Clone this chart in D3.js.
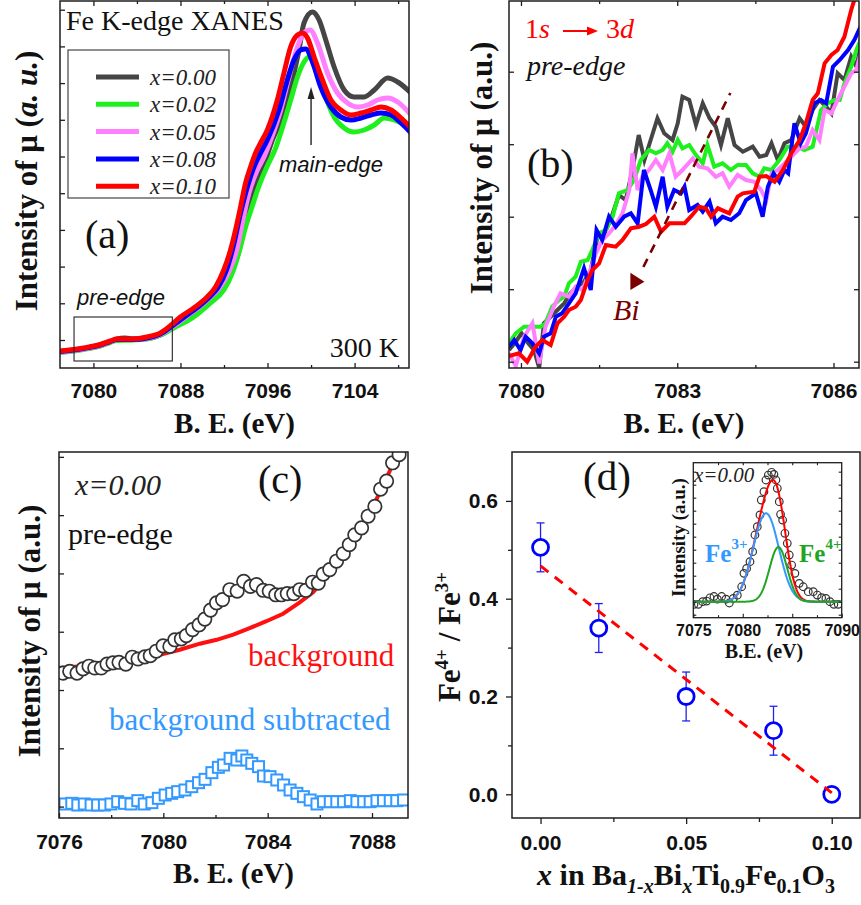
<!DOCTYPE html>
<html><head><meta charset="utf-8">
<script src="https://cdn.jsdelivr.net/npm/d3@7"></script>
<style>
body{margin:0;background:#fff;}
svg{display:block;}
</style></head><body>
<svg id="fig" width="861" height="905"></svg>
<script>
// ---------------- data ----------------
// (a) Fe K-edge XANES, normalised absorption (arb. units) vs energy (eV)
const xanes000 = [[7076.93,0.16],[7079.08,0.19],[7080.62,0.225],[7081.54,0.262],[7082.16,0.29],[7082.9,0.30],[7083.69,0.292],[7084.92,0.295],[7086.15,0.33],[7087.37,0.41],[7088.61,0.51],[7089.83,0.61],[7090.76,0.70],[7091.60,0.78],[7092.52,0.95],[7093.35,1.16],[7093.82,1.38],[7094.39,1.68],[7095.09,1.88],[7095.73,2.05],[7096.45,2.28],[7097.51,2.55],[7098.29,2.88],[7098.89,3.18],[7099.35,3.45],[7100.13,3.56],[7100.74,3.48],[7101.35,3.28],[7102.12,3.01],[7103.04,2.78],[7103.96,2.71],[7104.88,2.71],[7105.81,2.78],[7107.04,2.90],[7107.96,2.86],[7109.19,2.75]];
const xanes002 = [[7076.93,0.155],[7079.08,0.185],[7080.62,0.22],[7081.54,0.255],[7082.16,0.275],[7083.69,0.28],[7084.92,0.29],[7086.15,0.33],[7087.37,0.40],[7089.22,0.51],[7090.76,0.65],[7091.98,0.78],[7092.76,0.95],[7093.36,1.15],[7093.98,1.41],[7094.60,1.62],[7095.21,1.82],[7095.98,2.02],[7096.75,2.20],[7097.21,2.35],[7098.13,2.68],[7098.75,2.91],[7099.35,3.06],[7099.82,3.11],[7100.43,3.01],[7101.20,2.75],[7102.12,2.51],[7103.04,2.40],[7103.96,2.36],[7104.88,2.38],[7105.81,2.43],[7106.73,2.50],[7107.65,2.48],[7108.57,2.43],[7109.19,2.38]];
const xanes005 = [[7076.93,0.16],[7079.08,0.19],[7080.62,0.225],[7081.54,0.26],[7082.16,0.285],[7083.69,0.285],[7084.92,0.295],[7086.15,0.335],[7087.37,0.42],[7088.61,0.52],[7089.83,0.62],[7090.76,0.71],[7091.51,0.79],[7092.43,0.96],[7093.17,1.18],[7093.68,1.45],[7094.29,1.75],[7095.06,1.98],[7095.67,2.11],[7096.29,2.28],[7097.21,2.58],[7097.97,2.91],[7098.75,3.21],[7099.35,3.35],[7099.91,3.38],[7100.59,3.25],[7101.51,2.95],[7102.43,2.75],[7103.35,2.65],[7104.28,2.61],[7105.20,2.63],[7106.12,2.68],[7107.04,2.70],[7107.96,2.66],[7109.19,2.53]];
const xanes008 = [[7076.93,0.165],[7079.08,0.195],[7080.62,0.23],[7081.54,0.265],[7082.16,0.285],[7083.69,0.285],[7084.92,0.30],[7086.15,0.34],[7087.37,0.43],[7088.61,0.53],[7089.83,0.63],[7090.76,0.72],[7091.42,0.80],[7092.23,0.98],[7092.88,1.23],[7093.52,1.55],[7094.14,1.81],[7094.75,2.01],[7095.36,2.15],[7095.98,2.28],[7097.05,2.58],[7097.82,2.88],[7098.43,3.08],[7099.05,3.18],[7099.51,3.19],[7100.13,3.06],[7100.89,2.81],[7101.82,2.61],[7102.74,2.51],[7103.66,2.48],[7104.59,2.50],[7105.51,2.53],[7106.43,2.55],[7107.35,2.53],[7108.27,2.45],[7109.19,2.35]];
const xanes010 = [[7076.93,0.17],[7079.08,0.20],[7080.62,0.235],[7081.54,0.27],[7082.16,0.29],[7083.69,0.29],[7084.92,0.31],[7086.15,0.35],[7087.37,0.45],[7088.0,0.51],[7089.22,0.60],[7090.45,0.71],[7091.22,0.81],[7091.98,0.98],[7092.60,1.18],[7093.06,1.38],[7093.52,1.61],[7093.98,1.85],[7094.44,2.01],[7094.90,2.15],[7095.36,2.25],[7095.98,2.38],[7096.90,2.68],[7097.51,2.95],[7098.12,3.21],[7098.75,3.33],[7099.21,3.35],[7099.67,3.30],[7100.28,3.11],[7101.05,2.88],[7101.82,2.68],[7102.74,2.58],[7103.66,2.53],[7104.59,2.55],[7105.51,2.58],[7106.43,2.61],[7107.35,2.58],[7108.27,2.50],[7109.19,2.40]];

// (b) pre-edge region, same samples
const pre000 = [[7079.77,0.18],[7079.90,0.263],[7080.01,0.347],[7080.14,0.247],[7080.25,0.18],[7080.35,0.0],[7080.44,0.447],[7080.57,0.513],[7080.70,0.58],[7080.83,0.647],[7080.95,0.747],[7081.08,0.813],[7081.21,0.863],[7081.34,0.98],[7081.47,1.313],[7081.60,1.347],[7081.72,1.48],[7081.88,1.73],[7082.01,1.68],[7082.14,1.98],[7082.26,2.33],[7082.37,2.08],[7082.49,2.28],[7082.62,2.497],[7082.75,2.347],[7082.91,2.28],[7083.01,2.447],[7083.10,2.713],[7083.23,2.68],[7083.36,2.43],[7083.49,2.647],[7083.62,2.497],[7083.74,2.413],[7083.84,2.23],[7083.97,2.497],[7084.10,2.23],[7084.26,2.163],[7084.45,2.213],[7084.58,2.113],[7084.71,2.13],[7084.81,2.247],[7084.93,2.08],[7085.06,2.247],[7085.19,2.28],[7085.35,2.497],[7085.47,2.413],[7085.60,2.58],[7085.73,2.68],[7085.86,2.613],[7085.96,2.547],[7086.08,2.947],[7086.21,2.88],[7086.34,3.113],[7086.44,3.013],[7086.52,3.213]];
const pre002 = [[7079.77,0.247],[7079.90,0.347],[7080.06,0.413],[7080.22,0.413],[7080.38,0.413],[7080.47,0.447],[7080.60,0.613],[7080.73,0.68],[7080.83,0.713],[7080.92,0.847],[7081.05,0.913],[7081.15,1.063],[7081.28,1.08],[7081.37,1.18],[7081.50,1.347],[7081.63,1.38],[7081.76,1.513],[7081.88,1.747],[7082.04,1.78],[7082.17,1.88],[7082.30,2.08],[7082.46,2.18],[7082.59,2.147],[7082.72,2.18],[7082.81,2.247],[7082.91,2.163],[7083.01,2.28],[7083.10,2.197],[7083.23,2.23],[7083.36,2.13],[7083.49,2.047],[7083.58,2.23],[7083.71,2.013],[7083.87,2.047],[7084.03,1.98],[7084.16,2.03],[7084.32,2.03],[7084.45,1.947],[7084.58,1.913],[7084.67,1.997],[7084.81,1.98],[7084.96,2.08],[7085.12,2.213],[7085.31,2.213],[7085.44,2.18],[7085.60,2.213],[7085.76,2.58],[7085.89,2.647],[7086.02,2.68],[7086.12,2.68],[7086.21,2.847],[7086.34,3.013],[7086.44,3.18],[7086.52,3.28]];
const pre005 = [[7079.77,0.147],[7079.90,0.02],[7080.06,0.313],[7080.22,0.447],[7080.35,0.047],[7080.47,0.413],[7080.63,0.613],[7080.76,0.747],[7080.92,0.713],[7081.05,0.813],[7081.18,0.78],[7081.31,0.947],[7081.44,1.147],[7081.56,1.28],[7081.69,1.347],[7081.82,1.43],[7081.95,1.547],[7082.08,1.78],[7082.14,2.147],[7082.24,1.78],[7082.33,1.913],[7082.46,1.98],[7082.59,2.08],[7082.72,1.98],[7082.85,2.147],[7082.97,1.913],[7083.10,1.98],[7083.30,2.097],[7083.42,2.013],[7083.58,1.997],[7083.74,1.913],[7083.87,1.947],[7084.00,1.813],[7084.16,1.93],[7084.32,1.88],[7084.48,1.863],[7084.61,1.78],[7084.71,1.68],[7084.81,1.947],[7084.93,1.98],[7085.06,2.047],[7085.19,2.113],[7085.35,2.197],[7085.47,2.213],[7085.60,2.38],[7085.73,2.28],[7085.83,2.58],[7085.96,2.547],[7086.08,2.68],[7086.21,2.813],[7086.34,2.947],[7086.44,2.98],[7086.52,3.147]];
const pre008 = [[7079.77,0.213],[7079.87,0.28],[7079.99,0.18],[7080.09,0.313],[7080.22,0.247],[7080.35,0.147],[7080.44,0.313],[7080.57,0.347],[7080.67,0.513],[7080.79,0.547],[7080.92,0.647],[7081.05,0.747],[7081.21,0.997],[7081.34,0.78],[7081.45,1.38],[7081.56,1.28],[7081.69,1.513],[7081.82,1.413],[7081.98,1.513],[7082.11,1.547],[7082.24,1.447],[7082.36,1.98],[7082.49,1.78],[7082.59,1.613],[7082.72,1.913],[7082.81,1.613],[7082.94,1.78],[7083.07,1.747],[7083.14,1.813],[7083.23,1.58],[7083.39,1.63],[7083.49,1.563],[7083.62,1.663],[7083.74,1.447],[7083.87,1.513],[7084.03,1.48],[7084.19,1.547],[7084.32,1.68],[7084.51,1.747],[7084.64,1.513],[7084.74,1.813],[7084.85,1.947],[7084.96,1.863],[7085.06,1.98],[7085.13,1.947],[7085.25,2.447],[7085.37,2.247],[7085.47,2.347],[7085.63,2.647],[7085.76,2.68],[7085.86,2.647],[7085.99,3.013],[7086.12,3.08],[7086.28,3.18],[7086.40,3.28],[7086.52,3.413]];
const pre010 = [[7079.77,0.12],[7079.96,0.147],[7080.12,0.063],[7080.28,0.213],[7080.41,0.28],[7080.57,0.23],[7080.70,0.447],[7080.83,0.513],[7080.92,0.58],[7081.05,0.613],[7081.15,0.68],[7081.28,0.88],[7081.37,0.98],[7081.50,1.047],[7081.63,1.23],[7081.82,1.213],[7081.95,1.28],[7082.11,1.397],[7082.27,1.413],[7082.40,1.44],[7082.56,1.513],[7082.69,1.363],[7082.85,1.447],[7083.04,1.447],[7083.14,1.447],[7083.26,1.513],[7083.42,1.613],[7083.55,1.597],[7083.65,1.513],[7083.78,1.597],[7084.00,1.547],[7084.16,1.713],[7084.26,1.747],[7084.48,1.763],[7084.58,1.913],[7084.71,1.92],[7084.87,1.863],[7085.03,1.98],[7085.19,2.147],[7085.35,2.28],[7085.47,2.447],[7085.60,2.68],[7085.70,2.747],[7085.83,3.047],[7085.96,3.13],[7086.08,3.18],[7086.21,3.313],[7086.34,3.58],[7086.40,3.68]];

const compositions = ["x=0.00", "x=0.02", "x=0.05", "x=0.08", "x=0.10"];

// (c) x = 0.00 pre-edge: measured points, background, background-subtracted
const cMeasured = [[7076.15,48.3],[7076.41,48.9],[7076.69,48.3],[7076.92,49.7],[7077.15,50.6],[7077.37,50.0],[7077.62,50.0],[7077.84,51.3],[7078.07,51.7],[7078.30,51.9],[7078.56,51.3],[7078.81,53.6],[7079.03,53.0],[7079.29,53.7],[7079.50,54.1],[7079.73,55.6],[7079.99,57.4],[7080.25,57.2],[7080.44,59.4],[7080.69,59.7],[7080.88,60.8],[7081.12,62.8],[7081.37,64.4],[7081.59,66.3],[7081.81,69.3],[7082.04,71.7],[7082.27,72.8],[7082.55,76.1],[7082.83,75.6],[7083.08,78.9],[7083.34,77.2],[7083.57,77.8],[7083.83,75.9],[7084.06,75.6],[7084.31,74.4],[7084.53,74.4],[7084.75,74.8],[7085.00,74.8],[7085.23,76.1],[7085.46,75.9],[7085.72,78.6],[7085.94,78.3],[7086.13,81.3],[7086.38,82.8],[7086.64,85.6],[7086.90,88.1],[7087.13,91.1],[7087.34,94.4],[7087.60,96.7],[7087.85,100.6],[7088.11,103.9],[7088.33,109.6],[7088.56,112.3],[7088.79,118.4],[7089.04,121.1]];
const cBackground = [[7076.00,50.0],[7077.56,51.1],[7078.84,52.8],[7079.86,54.4],[7080.63,56.1],[7081.40,58.1],[7082.04,59.4],[7082.68,61.1],[7083.31,63.3],[7083.95,65.6],[7084.59,68.1],[7085.23,71.9],[7085.74,75.2],[7086.26,80.5],[7086.77,86.5],[7087.28,93.0],[7087.79,99.5],[7088.30,108.5],[7088.75,117.0],[7089.07,122.5],[7089.38,128.0]];
const cSubtracted = [[7076.23,4.67],[7076.49,4.89],[7076.72,4.33],[7076.97,4.67],[7077.23,4.33],[7077.48,4.33],[7077.74,4.33],[7077.99,4.67],[7078.25,5.44],[7078.51,4.89],[7078.76,4.67],[7079.02,5.78],[7079.27,4.67],[7079.56,5.11],[7079.81,6.56],[7080.07,7.67],[7080.32,8.22],[7080.55,8.78],[7080.83,9.33],[7081.09,10.44],[7081.35,11.78],[7081.60,12.89],[7081.86,15.11],[7082.11,16.89],[7082.31,17.67],[7082.56,19.89],[7082.82,19.33],[7083.01,20.67],[7083.20,19.33],[7083.39,18.22],[7083.65,17.11],[7083.84,14.0],[7084.09,13.78],[7084.35,12.67],[7084.61,11.0],[7084.86,9.33],[7085.12,8.22],[7085.37,7.11],[7085.63,6.0],[7085.89,4.67],[7086.14,5.44],[7086.40,5.44],[7086.65,5.44],[7086.91,5.44],[7087.17,5.78],[7087.42,5.44],[7087.68,5.44],[7087.93,5.44],[7088.19,5.78],[7088.44,5.78],[7088.70,5.78],[7088.95,5.78],[7089.21,6.0]];

// (d) Fe4+/Fe3+ ratio vs Bi content
const biContent = [0.00, 0.02, 0.05, 0.08, 0.10];
const feRatio   = [0.505, 0.34, 0.20, 0.13, 0.00];
const feRatioErr = [0.05, 0.05, 0.05, 0.05, 0.00];

// (d) inset: background-subtracted pre-edge of x = 0.00 and its two-Gaussian fit
const insetE = [7075.07,7075.51,7075.95,7076.35,7076.69,7077.09,7077.43,7077.87,7078.30,7078.64,7079.04,7079.45,7079.89,7080.12,7080.39,7080.73,7081.00,7081.23,7081.47,7081.74,7081.87,7082.14,7082.34,7082.58,7082.92,7083.15,7083.35,7083.49,7083.69,7083.82,7084.03,7084.26,7084.50,7084.70,7084.94,7085.27,7085.71,7086.11,7086.62,7087.12,7087.53,7087.97,7088.40,7088.81,7089.21,7089.65];
const insetI = [-0.02,-0.02,0.0,0.005,0.03,0.04,0.02,0.04,0.02,-0.01,0.025,0.05,0.115,0.218,0.256,0.308,0.385,0.513,0.577,0.667,0.782,0.846,0.936,0.974,0.995,0.979,0.936,0.872,0.769,0.672,0.628,0.526,0.449,0.359,0.282,0.218,0.141,0.115,0.077,0.077,0.051,0.031,0.026,0.0,-0.02,-0.02];
const fitLabels  = ["Fe3+", "Fe4+"];
const fitCenter  = [7082.35, 7083.6];   // eV
const fitHeight  = [0.68, 0.42];
const fitSigma   = [1.3, 0.9];          // eV

// ---------------- drawing helpers ----------------
const SERIF = "'Liberation Serif','Times New Roman',serif";
const SANS = "'Liberation Sans',Arial,sans-serif";
const INK = "#1e1e1e";
const svg = d3.select("#fig");
const defs = svg.append("defs");

function makePanel(box, xDom, yDom, id) {
  const x = d3.scaleLinear().domain(xDom).range([box.l, box.r]);
  const y = d3.scaleLinear().domain(yDom).range([box.b, box.t]);
  defs.append("clipPath").attr("id", id).append("rect")
    .attr("x", box.l).attr("y", box.t).attr("width", box.r - box.l).attr("height", box.b - box.t);
  const plot = svg.append("g").attr("clip-path", `url(#${id})`);
  return {box, x, y, plot};
}

function axis(axisFn, scale, tx, ty, values, size, opts = {}) {
  const ax = axisFn(scale).tickValues(values).tickSize(size)
    .tickPadding(opts.pad ?? 3)
    .tickFormat(opts.fmt || (() => ""));
  const g = svg.append("g").attr("transform", `translate(${tx},${ty})`).call(ax);
  g.select(".domain").remove();
  g.selectAll("line").attr("stroke", INK).attr("stroke-width", opts.sw ?? 1.3);
  g.selectAll("text").attr("font-family", SANS).attr("font-weight", "bold")
    .attr("font-size", opts.fs ?? 21).attr("fill", "#111");
  return g;
}

function frame(p, sw = 1.5) {
  const b = p.box;
  svg.append("rect").attr("x", b.l).attr("y", b.t).attr("width", b.r - b.l).attr("height", b.b - b.t)
    .attr("fill", "none").attr("stroke", INK).attr("stroke-width", sw);
}

function label(x, y, str, o = {}) {
  return svg.append("text").attr("x", x).attr("y", y)
    .attr("font-family", o.ff || SERIF).attr("font-size", o.fs || 28)
    .attr("font-style", o.it ? "italic" : null).attr("font-weight", o.bold ? "bold" : null)
    .attr("fill", o.fill || "#111").attr("text-anchor", o.anchor || "start").text(str);
}

function vTitle(cx, cy, parts, fs) {
  const t = svg.append("text").attr("transform", `translate(${cx},${cy}) rotate(-90)`)
    .attr("text-anchor", "middle").attr("font-family", SERIF).attr("font-weight", "bold")
    .attr("font-size", fs).attr("fill", "#111");
  parts.forEach(p => {
    t.append("tspan").attr("font-style", p.it ? "italic" : null)
      .attr("font-size", p.fs || null).attr("dy", p.dy || null).text(p.t);
  });
  return t;
}

const lineColors = ["#454545", "#1ef01e", "#ff7fff", "#0000ff", "#ff0000"];

// ---------------- (a) XANES ----------------
const A = makePanel({l:60, r:409, t:1, b:368}, [7076.93, 7109.0], [0, 3.67], "clipA");
const lineA = d3.line().x(d => A.x(d[0])).y(d => A.y(d[1])).curve(d3.curveMonotoneX);
[xanes000, xanes002, xanes005, xanes008, xanes010].forEach((s, i) => {
  A.plot.append("path").attr("d", lineA(s)).attr("fill", "none")
    .attr("stroke", lineColors[i]).attr("stroke-width", 5).attr("stroke-linejoin", "round");
});
axis(d3.axisBottom, A.x, 0, 368, [7080, 7088, 7096, 7104], -5, {fmt: d3.format("d"), pad: 15});
axis(d3.axisBottom, A.x, 0, 368, [7084, 7092, 7100, 7108], -3);
axis(d3.axisTop, A.x, 0, 1, [7080, 7088, 7096, 7104], -5);
axis(d3.axisTop, A.x, 0, 1, [7084, 7092, 7100, 7108], -3);
axis(d3.axisLeft, A.y, 60, 0, d3.range(0.28, 3.67, 0.367), -5);
frame(A);

// legend
const legBox = {l:68, t:50, r:229, b:198};
svg.append("rect").attr("x", legBox.l).attr("y", legBox.t).attr("width", legBox.r - legBox.l)
  .attr("height", legBox.b - legBox.t).attr("fill", "#fff").attr("stroke", "#444").attr("stroke-width", 1.2);
compositions.forEach((c, i) => {
  const yy = 77 + i * 27.3;
  svg.append("line").attr("x1", 96).attr("x2", 139).attr("y1", yy).attr("y2", yy)
    .attr("stroke", lineColors[i]).attr("stroke-width", 5);
  label(150, yy + 8, c, {fs: 23, it: true, fill: "#222"});
});

label(66, 30, "Fe K-edge XANES", {fs: 28, fill: "#111"});
label(85, 248, "(a)", {fs: 40});
label(399, 357, "300 K", {fs: 28, anchor: "end"});
label(77, 305, "pre-edge", {ff: SANS, fs: 22, it: true});
label(279, 172, "main-edge", {ff: SANS, fs: 22, it: true});
// pre-edge window and main-edge arrow
svg.append("rect").attr("x", A.x(7078.22)).attr("y", A.y(0.51))
  .attr("width", A.x(7087.25) - A.x(7078.22)).attr("height", A.y(0.07) - A.y(0.51))
  .attr("fill", "none").attr("stroke", "#222").attr("stroke-width", 1.1);
const arX = A.x(7100.0);
svg.append("line").attr("x1", arX).attr("x2", arX).attr("y1", A.y(2.23)).attr("y2", A.y(2.72))
  .attr("stroke", "#222").attr("stroke-width", 1.4);
svg.append("path").attr("d", `M${arX},${A.y(2.81)} L${arX - 3.5},${A.y(2.69)} L${arX + 3.5},${A.y(2.69)} Z`).attr("fill", "#222");

label(234.5, 433, "B. E. (eV)", {fs: 29, bold: true, anchor: "middle"});
vTitle(37, 181, [{t: "Intensity of μ ("}, {t: "a. u.", it: true}, {t: ")"}], 31);

// ---------------- (b) pre-edge zoom ----------------
const B = makePanel({l:509, r:859, t:1, b:368}, [7079.77, 7086.49], [0, 3.67], "clipB");
const lineB = d3.line().x(d => B.x(d[0])).y(d => B.y(d[1]));
[pre000, pre002, pre005, pre008, pre010].forEach((s, i) => {
  B.plot.append("path").attr("d", lineB(s)).attr("fill", "none")
    .attr("stroke", lineColors[i]).attr("stroke-width", 4).attr("stroke-linejoin", "miter");
});
axis(d3.axisBottom, B.x, 0, 368, [7080, 7083, 7086], -5, {fmt: d3.format("d"), pad: 15});
axis(d3.axisBottom, B.x, 0, 368, [7081.5, 7084.5], -3);
axis(d3.axisTop, B.x, 0, 1, [7080, 7083, 7086], -5);
axis(d3.axisTop, B.x, 0, 1, [7081.5, 7084.5], -3);
axis(d3.axisLeft, B.y, 509, 0, d3.range(0.063, 3.67, 0.725), -5);
axis(d3.axisRight, B.y, 859, 0, d3.range(0.063, 3.67, 0.725), -5);
frame(B);

// Bi trend arrow (dashed) with head
svg.append("line").attr("x1", B.x(7082.35)).attr("y1", B.y(1.01)).attr("x2", B.x(7084.02)).attr("y2", B.y(2.75))
  .attr("stroke", "#7a0000").attr("stroke-width", 2.6).attr("stroke-dasharray", "9,7");
svg.append("path").attr("d",
  `M${B.x(7082.10)},${B.y(0.953)} L${B.x(7082.10)},${B.y(0.78)} L${B.x(7082.37)},${B.y(0.863)} Z`)
  .attr("fill", "#7a0000");
label(613, 320, "Bi", {fs: 30, it: true, fill: "#7a0000"});

const tr = label(525, 38, "1", {fs: 28, fill: "#ff0000"});
tr.append("tspan").attr("font-style", "italic").text("s");
svg.append("line").attr("x1", 563).attr("x2", 589).attr("y1", 31).attr("y2", 31)
  .attr("stroke", "#ff0000").attr("stroke-width", 2);
svg.append("path").attr("d", "M598,31 L587,26.5 L587,35.5 Z").attr("fill", "#ff0000");
const tr2 = label(606, 38, "3", {fs: 28, fill: "#ff0000"});
tr2.append("tspan").attr("font-style", "italic").text("d");
label(527, 75, "pre-edge", {fs: 28, it: true, fill: "#111"});
label(527, 177, "(b)", {fs: 40});

label(684, 433, "B. E. (eV)", {fs: 29, bold: true, anchor: "middle"});
vTitle(492, 168, [{t: "Intensity of μ (a.u.)"}], 31);

// ---------------- (c) background subtraction ----------------
const C = makePanel({l:59, r:408, t:452, b:818}, [7076, 7089.38], [0, 122], "clipC");
const lineC = d3.line().x(d => C.x(d[0])).y(d => C.y(d[1]));
C.plot.append("path").attr("d", lineC(cBackground)).attr("fill", "none")
  .attr("stroke", "#ff1010").attr("stroke-width", 4);
C.plot.selectAll("circle.meas").data(cMeasured).join("circle").attr("class", "meas")
  .attr("cx", d => C.x(d[0])).attr("cy", d => C.y(d[1])).attr("r", 6.7)
  .attr("fill", "#fff").attr("stroke", "#333").attr("stroke-width", 1.7);
const sq = 11;
C.plot.selectAll("rect.sub").data(cSubtracted).join("rect").attr("class", "sub")
  .attr("x", d => C.x(d[0]) - sq / 2).attr("y", d => C.y(d[1]) - sq / 2)
  .attr("width", sq).attr("height", sq)
  .attr("fill", "#fff").attr("stroke", "#3399ff").attr("stroke-width", 2);
axis(d3.axisBottom, C.x, 0, 818, [7076, 7080, 7084, 7088], -5, {fmt: d3.format("d"), pad: 16});
axis(d3.axisBottom, C.x, 0, 818, [7078, 7082, 7086], -3);
axis(d3.axisLeft, C.y, 59, 0, d3.range(3.8, 122, 19.43), -5);
frame(C);

label(75, 495, "x=0.00", {fs: 30, it: true, fill: "#222"});
label(258, 493, "(c)", {fs: 40});
label(68, 544, "pre-edge", {fs: 30});
label(248, 666, "background", {fs: 31, fill: "#ff1010"});
label(109, 730, "background subtracted", {fs: 31, fill: "#3399ff"});

label(233.5, 883, "B. E. (eV)", {fs: 29, bold: true, anchor: "middle"});
vTitle(40, 631, [{t: "Intensity of μ (a.u.)"}], 31);

// ---------------- (d) Fe4+/Fe3+ ratio ----------------
const D = makePanel({l:512, r:860, t:452, b:818}, [-0.0098, 0.1097], [-0.0485, 0.70], "clipD");
// least-squares straight line through the ratios
const mx = d3.mean(biContent), my = d3.mean(feRatio);
const slope = d3.sum(biContent, (v, i) => (v - mx) * (feRatio[i] - my)) / d3.sum(biContent, v => (v - mx) ** 2);
const icpt = my - slope * mx;
const fitEnds = d3.extent(biContent);
const pts = biContent.map((v, i) => ({x: v, y: feRatio[i], e: feRatioErr[i]}));
const eb = D.plot.append("g").attr("stroke", "#2222ee").attr("stroke-width", 1.3);
pts.filter(d => d.e > 0).forEach(d => {
  const cx = D.x(d.x);
  eb.append("line").attr("x1", cx).attr("x2", cx).attr("y1", D.y(d.y + d.e)).attr("y2", D.y(d.y - d.e));
  eb.append("line").attr("x1", cx - 4).attr("x2", cx + 4).attr("y1", D.y(d.y + d.e)).attr("y2", D.y(d.y + d.e));
  eb.append("line").attr("x1", cx - 4).attr("x2", cx + 4).attr("y1", D.y(d.y - d.e)).attr("y2", D.y(d.y - d.e));
});
D.plot.selectAll("circle.pt").data(pts).join("circle").attr("class", "pt")
  .attr("cx", d => D.x(d.x)).attr("cy", d => D.y(d.y)).attr("r", 8)
  .attr("fill", "#fff").attr("stroke", "#0000ff").attr("stroke-width", 2.8);
D.plot.append("line")
  .attr("x1", D.x(fitEnds[0])).attr("y1", D.y(icpt + slope * fitEnds[0]))
  .attr("x2", D.x(fitEnds[1])).attr("y2", D.y(icpt + slope * fitEnds[1]))
  .attr("stroke", "#ff0000").attr("stroke-width", 3).attr("stroke-dasharray", "10,8");
axis(d3.axisBottom, D.x, 0, 818, [0, 0.05, 0.10], 6, {fmt: d3.format(".2f"), pad: 11});
axis(d3.axisBottom, D.x, 0, 818, [0.025, 0.075], 4);
axis(d3.axisLeft, D.y, 512, 0, [0, 0.2, 0.4, 0.6], 6, {fmt: d3.format(".1f"), pad: 8});
axis(d3.axisLeft, D.y, 512, 0, [0.1, 0.3, 0.5], 4);
frame(D);
label(583, 490, "(d)", {fs: 41});

const xt = svg.append("text").attr("x", 686).attr("y", 885).attr("text-anchor", "middle")
  .attr("font-family", SERIF).attr("font-weight", "bold").attr("font-size", 30).attr("fill", "#111");
[
  {t: "x", it: true}, {t: " in Ba"}, {t: "1-x", it: true, sub: true}, {t: "Bi"},
  {t: "x", it: true, sub: true}, {t: "Ti"}, {t: "0.9", sub: true}, {t: "Fe"},
  {t: "0.1", sub: true}, {t: "O"}, {t: "3", sub: true}
].reduce((wasSub, p) => {
  const dy = p.sub && !wasSub ? 8 : (!p.sub && wasSub ? -8 : 0);
  xt.append("tspan").attr("font-style", p.it ? "italic" : null)
    .attr("font-size", p.sub ? 20 : null).attr("dy", dy || null).text(p.t);
  return !!p.sub;
}, false);
vTitle(460, 637, [{t: "Fe"}, {t: "4+", fs: 19, dy: -12}, {t: " / Fe", dy: 12}, {t: "3+", fs: 19, dy: -12}], 31);

// ---------------- (d) inset ----------------
const I = makePanel({l:693.3, r:841.7, t:462.7, b:617.7}, [7075, 7090], [-0.123, 1.069], "clipI");
svg.append("rect").attr("x", 693.3).attr("y", 462.7).attr("width", 148.4).attr("height", 155)
  .attr("fill", "#fff");
const gauss = (e, k) => fitHeight[k] * Math.exp(-((e - fitCenter[k]) ** 2) / (2 * fitSigma[k] ** 2));
const grid = d3.range(7075, 7090.001, 0.05);
const lineI = d3.line().x(d => I.x(d[0])).y(d => I.y(d[1]));
const insetPlot = svg.append("g").attr("clip-path", "url(#clipI)");
insetPlot.selectAll("circle").data(insetE.map((e, i) => [e, insetI[i]])).join("circle")
  .attr("cx", d => I.x(d[0])).attr("cy", d => I.y(d[1])).attr("r", 3.8)
  .attr("fill", "none").attr("stroke", "#333").attr("stroke-width", 1.2);
insetPlot.append("path").attr("d", lineI(grid.map(e => [e, gauss(e, 0) + gauss(e, 1)])))
  .attr("fill", "none").attr("stroke", "#ff0000").attr("stroke-width", 2);
insetPlot.append("path").attr("d", lineI(grid.map(e => [e, gauss(e, 0)])))
  .attr("fill", "none").attr("stroke", "#3399ff").attr("stroke-width", 2);
insetPlot.append("path").attr("d", lineI(grid.map(e => [e, gauss(e, 1)])))
  .attr("fill", "none").attr("stroke", "#1fa51f").attr("stroke-width", 2);
axis(d3.axisBottom, I.x, 0, 617.7, [7075, 7080, 7085, 7090], -4, {fmt: d3.format("d"), pad: 7, fs: 16, sw: 1.1});
axis(d3.axisBottom, I.x, 0, 617.7, [7077.5, 7082.5, 7087.5], -2.5, {sw: 1.1});
axis(d3.axisTop, I.x, 0, 462.7, [7077.5, 7080, 7082.5, 7085, 7087.5], -2.5, {sw: 1.1});
axis(d3.axisLeft, I.y, 693.3, 0, d3.range(-0.1, 1.05, 0.1), -3, {sw: 1.1});
axis(d3.axisRight, I.y, 841.7, 0, d3.range(-0.1, 1.05, 0.1), -3, {sw: 1.1});
frame(I, 1.3);
label(694, 482, "x=0.00", {fs: 21, it: true, fill: "#222"});
[[705, "#3399ff"], [799, "#1fa51f"]].forEach(([lx, col], k) => {
  const t = label(lx, 562, "Fe", {fs: 25, bold: true, fill: col});
  t.append("tspan").attr("font-size", 15).attr("dy", -13).text(fitLabels[k].slice(2));
});
label(764, 658, "B.E. (eV)", {fs: 20, bold: true, anchor: "middle"});
vTitle(685, 537.5, [{t: "Intensity (a.u.)"}], 19);
</script></body></html>
